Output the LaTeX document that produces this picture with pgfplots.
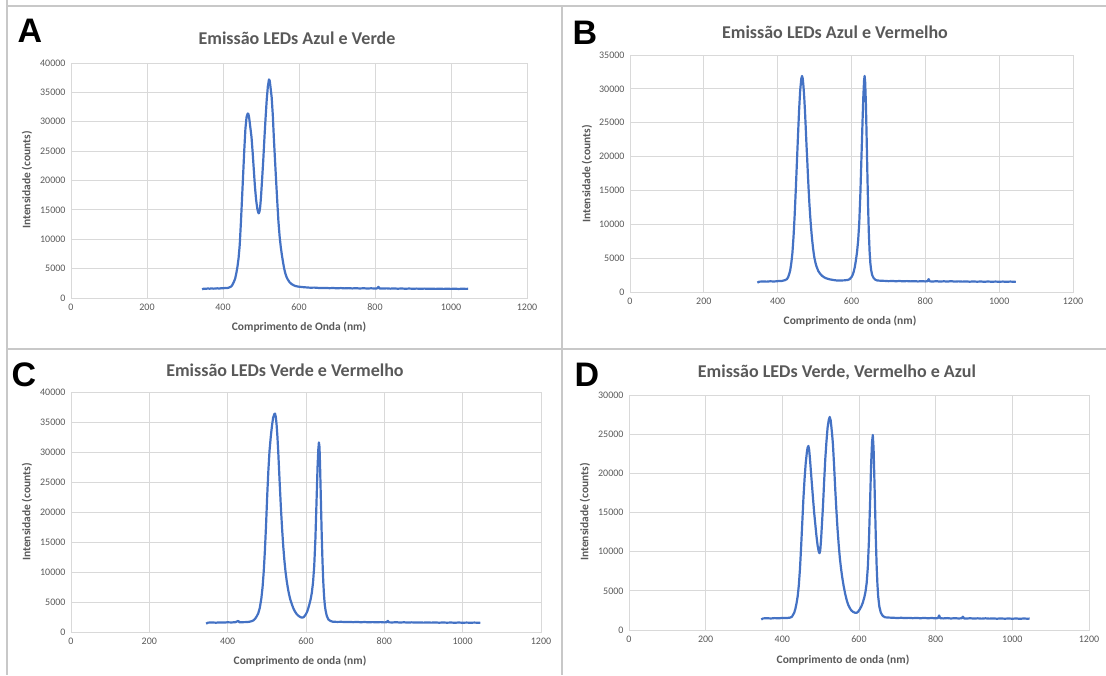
\documentclass[border=0pt]{standalone}
\usepackage{fontspec}
\setmainfont{Carlito}
\newfontfamily\letterfont{Liberation Sans}
\usepackage{pgfplots}
\pgfplotsset{compat=1.18}

\definecolor{gridc}{HTML}{D9D9D9}
\definecolor{txtc}{HTML}{595959}
\definecolor{linec}{HTML}{4472C4}
\definecolor{framec}{HTML}{C8C8C8}

\pgfplotsset{spec/.style={
  scale only axis, anchor=south west,
  xmin=0, xmax=1200, xtick distance=200,
  ymin=0, ytick distance=5000,
  grid=major, major grid style={gridc, line width=0.9pt},
  axis line style={gridc, line width=0.9pt},
  major tick length=0pt,
  tick label style={font=\fontsize{10}{11}\selectfont, text=txtc},
  /pgf/number format/assume math mode=true,
  /pgf/number format/1000 sep={},
  scaled y ticks=false,
  xticklabel style={yshift=-2pt},
  yticklabel style={xshift=-2pt},
}}
\tikzset{spec line/.style={draw=linec, line width=2.2pt, line join=round, no markers}}
\newcommand{\ttl}[3]{\node[font=\fontsize{18}{20}\bfseries\selectfont, text=txtc] at (#1pt,{675pt-#2pt}) {#3};}
\newcommand{\xl}[3]{\node[font=\fontsize{11.5}{13}\bfseries\selectfont, text=txtc] at (#1pt,{675pt-#2pt}) {#3};}
\newcommand{\yl}[3]{\node[rotate=90, font=\fontsize{11.5}{13}\bfseries\selectfont, text=txtc] at (#1pt,{675pt-#2pt}) {#3};}
\newcommand{\lt}[3]{\node[font=\fontsize{34}{36}\letterfont\bfseries\selectfont] at (#1pt,{675pt-#2pt}) {#3};}

\begin{document}
\begin{tikzpicture}
\path[use as bounding box] (0pt,0pt) rectangle (1106pt,675pt);
% panel frames
\draw[framec, line width=1.3pt] (7pt,675pt) -- (7pt,669pt) -- (1106pt,669pt);
\draw[framec, line width=1.3pt] (7pt,675pt) -- (7pt,0pt);
\draw[framec, line width=1.3pt] (562pt,669pt) -- (562pt,0pt);
\draw[framec, line width=1.3pt] (7pt,326pt) -- (1106pt,326pt);

% ---------- A ----------
\begin{axis}[spec, at={(71pt,377pt)}, width=456pt, height=235pt, ymax=40000]
\addplot[spec line] table {
345 1480
350 1600
355 1560
360 1620
365 1580
370 1640
375 1590
380 1610
385 1650
390 1600
395 1660
400 1640
405 1700
410 1680
415 1760
420 1900
423 2050
426 2400
429 2800
432 3300
435 4200
438 5300
441 6800
444 9000
447 12700
450 16800
453 21000
456 25200
459 28800
462 30800
465 31400
467 31300
469 30600
472 29000
475 27400
478 24800
481 21900
484 19000
487 16800
490 15300
492 14700
494 14400
496 14700
498 15600
500 17200
503 20300
506 23500
509 27200
512 30600
515 33700
518 36000
521 37200
523 37000
525 35900
528 34200
531 31200
534 27000
537 23300
540 19700
543 16200
546 12900
549 10500
552 8700
555 7300
558 6100
561 5000
564 4200
567 3600
570 3200
575 2700
580 2400
585 2200
590 2050
595 1980
600 1920
610 1850
620 1800
630 1750
640 1770
650 1720
660 1690
670 1720
680 1670
690 1700
700 1650
710 1690
720 1640
730 1680
740 1630
750 1670
760 1620
770 1660
780 1610
790 1650
800 1610
806 1640
809 1900
812 1620
820 1600
830 1640
840 1590
850 1630
860 1580
870 1620
880 1570
890 1610
900 1570
910 1600
920 1560
930 1600
940 1560
950 1590
960 1550
970 1590
980 1550
990 1580
1000 1550
1010 1580
1020 1540
1030 1580
1040 1550
1045 1570
};
\end{axis}
\lt{30}{31}{A}
\ttl{297}{38}{Emissão LEDs Azul e Verde}
\xl{299}{327}{Comprimento de Onda (nm)}
\yl{27}{180}{Intensidade (counts)}

% ---------- B ----------
\begin{axis}[spec, at={(630pt,383pt)}, width=443pt, height=237pt, ymax=35000]
\addplot[spec line] table {
345 1380
350 1520
360 1560
370 1530
380 1580
390 1550
400 1600
405 1640
410 1620
415 1680
420 1750
425 1900
428 2150
431 2600
434 3200
437 4300
440 5800
443 8200
446 11300
449 15000
452 19000
455 23000
458 26800
461 29800
464 31500
466 31900
468 31500
470 30300
472 28700
474 26700
476 24300
478 21800
480 19600
482 17200
484 15000
486 13000
488 11300
490 9800
493 7900
496 6400
499 5200
502 4400
505 3800
510 3100
515 2700
520 2400
525 2200
530 2050
540 1880
550 1780
560 1700
570 1700
580 1720
590 1780
595 1900
600 2200
603 2500
606 3000
609 3700
612 4700
615 5900
618 7600
621 10200
624 14500
627 20000
630 25400
632 28800
634 31200
635.5 31900
637 31000
639 27800
641 22800
643 17500
645 12500
647 8700
649 6000
651 4300
653 3300
656 2500
660 2050
665 1800
670 1700
680 1660
690 1640
700 1600
710 1630
720 1590
730 1620
740 1580
750 1610
760 1570
770 1600
780 1560
790 1600
800 1560
806 1600
809 1900
812 1570
820 1550
830 1590
840 1540
850 1580
860 1540
870 1600
880 1530
890 1570
900 1530
910 1560
920 1520
930 1560
940 1520
950 1550
960 1510
970 1550
980 1510
990 1540
1000 1510
1010 1540
1020 1500
1030 1540
1040 1510
1045 1530
};
\end{axis}
\lt{585}{33}{B}
\ttl{835}{32}{Emissão LEDs Azul e Vermelho}
\xl{850}{321}{Comprimento de onda (nm)}
\yl{587}{174}{Intensidade (counts)}

% ---------- C ----------
\begin{axis}[spec, at={(71pt,43pt)}, width=470pt, height=240pt, ymax=40000]
\addplot[spec line] table {
345 1400
350 1560
360 1590
370 1550
380 1600
390 1570
400 1620
410 1590
420 1640
427 1850
430 1620
440 1640
450 1660
455 1700
460 1780
465 1900
470 2200
474 2600
478 3100
482 4000
486 5600
489 7400
492 10000
495 13500
498 17800
501 22800
504 27000
507 30300
510 32500
513 34300
516 35700
519 36300
521 36400
523 35800
525 34500
527 32600
529 30200
531 27400
533 24600
536 20600
539 17200
542 14200
545 11800
548 9900
551 8400
554 7200
557 6200
560 5400
564 4600
568 3900
572 3400
576 3000
580 2750
584 2550
588 2420
591 2400
594 2480
597 2700
600 3000
603 3400
606 4000
609 4700
612 5500
615 6600
618 8300
621 11000
624 15500
627 22000
629.5 27500
631.5 30500
633 31600
634.5 30800
636 27500
638 22000
640 16500
642 12000
644 8500
646 6100
648 4500
650 3600
653 2700
657 2100
662 1850
668 1720
680 1680
690 1700
700 1650
710 1680
720 1640
730 1670
740 1630
750 1660
760 1620
770 1650
780 1610
790 1650
800 1600
806 1640
809 1850
812 1610
820 1590
830 1630
840 1580
850 1620
860 1570
870 1610
880 1570
890 1600
900 1560
910 1600
920 1560
930 1590
940 1550
950 1590
960 1550
970 1580
980 1540
990 1580
1000 1540
1010 1570
1020 1540
1030 1570
1040 1540
1045 1560
};
\end{axis}
\lt{24}{375}{C}
\ttl{285}{370}{Emissão LEDs Verde e Vermelho}
\xl{300}{661}{Comprimento de onda (nm)}
\yl{27}{512}{Intensidade (counts)}

% ---------- D ----------
\begin{axis}[spec, at={(629pt,45pt)}, width=460pt, height=235pt, ymax=30000]
\addplot[spec line] table {
345 1350
350 1480
360 1510
370 1470
380 1520
390 1490
400 1540
410 1520
420 1580
425 1680
428 1950
431 2200
434 2700
437 3400
440 4300
443 5700
446 7800
449 10600
452 13700
455 16800
458 19300
461 21300
464 22700
466 23300
468 23500
470 23000
472 21900
474 20600
477 18700
480 16800
483 15000
486 13500
489 12000
492 10800
495 10000
497 9800
499 10200
501 11500
503 13200
506 15800
509 18900
512 21800
515 24000
518 25800
521 26800
523.5 27200
526 26800
528 25900
530 24900
532 23700
535 21000
538 18000
541 15300
544 12900
547 10900
550 9200
553 7900
556 6800
560 5600
564 4600
568 3800
572 3200
576 2800
580 2500
585 2300
590 2200
594 2200
598 2350
602 2650
606 3000
610 3500
614 4200
617 4900
620 6000
623 8000
626 11500
629 16500
631.5 21000
634 24000
636 24900
638 23200
640 19500
642 15500
644 11500
646 8200
648 5900
650 4300
653 3000
657 2200
662 1800
668 1620
680 1580
690 1560
700 1530
710 1560
720 1520
730 1550
740 1510
750 1540
760 1500
770 1540
780 1500
790 1530
800 1490
806 1520
809 1850
812 1500
820 1480
830 1520
840 1470
850 1510
860 1470
868 1500
871 1700
874 1480
880 1460
890 1500
900 1460
910 1490
920 1450
930 1490
940 1450
950 1480
960 1440
970 1480
980 1440
990 1470
1000 1440
1010 1470
1020 1430
1030 1470
1040 1440
1045 1460
};
\end{axis}
\lt{587}{375}{D}
\ttl{837}{372}{Emissão LEDs Verde, Vermelho e Azul}
\xl{843}{660}{Comprimento de onda (nm)}
\yl{585}{512}{Intensidade (counts)}
\end{tikzpicture}
\end{document}
